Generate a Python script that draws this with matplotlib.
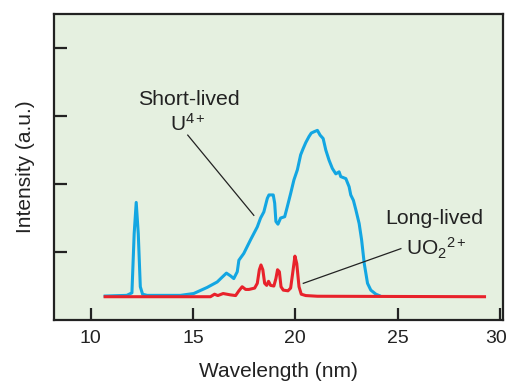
import matplotlib
matplotlib.use("Agg")
import matplotlib.pyplot as plt
from matplotlib.transforms import ScaledTranslation

plt.rcParams['font.family'] = ['Liberation Sans', 'DejaVu Sans']
plt.rcParams['mathtext.fontset'] = 'custom'
plt.rcParams['mathtext.rm'] = 'Liberation Sans'
plt.rcParams['mathtext.it'] = 'Liberation Sans'

# Short-lived U4+ spectrum (blue)
short_x = [10.70, 11.76, 12.01, 12.12, 12.22, 12.32, 12.42, 12.53, 12.75, 14.38, 15.03,
           15.69, 16.18, 16.42, 16.63, 16.83, 16.99, 17.16, 17.24, 17.48, 17.81, 18.14,
           18.30, 18.46, 18.63, 18.71, 18.92, 18.99, 19.05, 19.15, 19.28, 19.48, 19.61,
           19.77, 19.93, 20.10, 20.26, 20.38, 20.51, 20.67, 20.78, 20.92, 21.08, 21.21,
           21.36, 21.49, 21.65, 21.81, 21.98, 22.14, 22.22, 22.47, 22.63, 22.71, 22.84,
           22.96, 23.12, 23.24, 23.37, 23.53, 23.69, 23.94, 24.10]
short_y = [0.353, 0.363, 0.40, 1.27, 1.73, 1.27, 0.49, 0.38, 0.363, 0.363, 0.39,
           0.48, 0.56, 0.63, 0.69, 0.65, 0.61, 0.71, 0.88, 0.98, 1.18, 1.37,
           1.50, 1.59, 1.79, 1.84, 1.84, 1.72, 1.45, 1.41, 1.50, 1.52, 1.67,
           1.86, 2.06, 2.21, 2.43, 2.52, 2.61, 2.70, 2.75, 2.77, 2.79, 2.72,
           2.67, 2.50, 2.35, 2.23, 2.15, 2.18, 2.11, 2.08, 1.96, 1.84, 1.76,
           1.62, 1.42, 1.18, 0.83, 0.54, 0.44, 0.38, 0.36]

# Long-lived UO2 2+ spectrum (red)
long_x = [10.70, 15.85, 16.05, 16.21, 16.47, 16.83, 17.08, 17.24, 17.40, 17.57, 17.73,
          18.01, 18.14, 18.24, 18.32, 18.41, 18.50, 18.60, 18.69, 18.79, 18.95, 19.05,
          19.13, 19.22, 19.30, 19.41, 19.64, 19.77, 19.87, 19.98, 20.07, 20.18, 20.29,
          20.51, 21.08, 29.25]
long_y = [0.343, 0.343, 0.38, 0.36, 0.39, 0.37, 0.36, 0.43, 0.49, 0.45, 0.45,
          0.47, 0.54, 0.74, 0.81, 0.74, 0.54, 0.51, 0.57, 0.51, 0.50, 0.61,
          0.74, 0.71, 0.49, 0.44, 0.43, 0.47, 0.69, 0.94, 0.83, 0.49, 0.38,
          0.36, 0.35, 0.343]

x_ticks = [10, 15, 20, 25, 30]
x_tick_labels = ['10', '15', '20', '25', '30']
y_ticks = [1, 2, 3, 4]

fig = plt.figure(figsize=(5.08, 3.81), dpi=100)
ax = fig.add_axes([0.1063, 0.160, 0.8837, 0.803])
ax.set_facecolor('#e5f0e0')

ax.plot(short_x, short_y, color='#13a6e2', lw=2.2, solid_joinstyle='round')
ax.plot(long_x, long_y, color='#e8222b', lw=2.2, solid_joinstyle='round')

ax.set_xlim(8.2, 30.15)
ax.set_ylim(0, 4.5)
ax.set_xticks(x_ticks)
ax.set_xticklabels(x_tick_labels)
ax.set_yticks(y_ticks)
ax.set_yticklabels([])
ax.tick_params(axis='both', direction='in', length=9, width=1.6, labelsize=14, colors='#222222')
ax.tick_params(axis='x', pad=7)
for s in ax.spines.values():
    s.set_linewidth(1.6)
    s.set_color('#222222')

# nudge the last tick label so it stays inside the figure, as in the reference
last = ax.get_xticklabels()[-1]
last.set_transform(last.get_transform() + ScaledTranslation(-4 / 100, 0, fig.dpi_scale_trans))

ax.set_xlabel('Wavelength (nm)', fontsize=15, color='#222222', labelpad=11)
ax.set_ylabel('Intensity (a.u.)', fontsize=15, color='#222222', labelpad=10)

# Annotations
ax.plot([14.74, 17.97], [2.72, 1.54], color='#222222', lw=0.9)
ax.plot([20.39, 25.16], [0.54, 1.05], color='#222222', lw=0.9)
ax.text(14.79, 3.25, 'Short-lived', fontsize=15.3, ha='center', va='center', color='#222222')
ax.text(14.75, 2.89, r'U$^{4+}$', fontsize=15, ha='center', va='center', color='#222222')
ax.text(26.8, 1.50, 'Long-lived', fontsize=15.3, ha='center', va='center', color='#222222')
ax.text(26.9, 1.06, r'UO$_2$$^{2+}$', fontsize=15, ha='center', va='center', color='#222222')

fig.savefig('out.png', dpi=100)
